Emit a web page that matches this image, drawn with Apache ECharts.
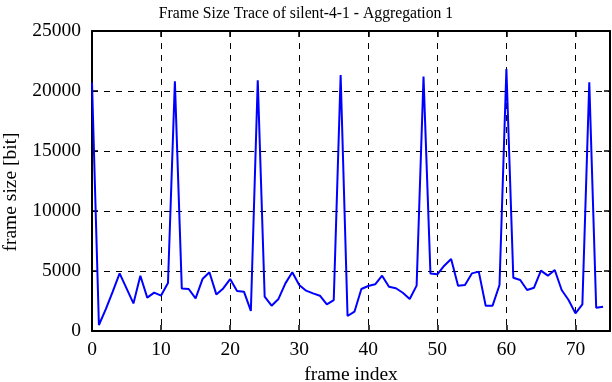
<!DOCTYPE html>
<html><head><meta charset="utf-8">
<script src="https://cdn.jsdelivr.net/npm/echarts@6/dist/echarts.min.js"></script>
<style>html,body{margin:0;padding:0;background:#fff}#c{width:612px;height:382px}</style>
</head><body><div id="c"></div>
<script>
const frameSizes = [20700,500,1830,3280,4800,3550,2300,4600,2780,3200,2950,4000,20800,3550,3500,2720,4330,4890,3050,3550,4330,3330,3280,1670,20900,2860,2110,2670,3970,4890,3830,3360,3140,2940,2220,2580,21330,1250,1610,3500,3750,3890,4610,3690,3560,3190,2670,3780,21200,4800,4720,5440,6000,3780,3830,4800,4950,2110,2110,3830,21830,4440,4250,3420,3610,5030,4610,5080,3420,2580,1470,2220,20720,1940,2030];
const xTicks = [0,10,20,30,40,50,60,70];
const yTicks = [0,5000,10000,15000,20000,25000];
const titleText = 'Frame Size Trace of silent-4-1 - Aggregation 1';
const xName = 'frame index';
const yName = 'frame size [bit]';

const data = frameSizes.map((v,i)=>[i,v]);
const font = 'Liberation Serif';
const lblSize = 19.5;
const chart = echarts.init(document.getElementById('c'));
const tick = {show:true,inside:true,length:6,lineStyle:{color:'#000',width:1.5}};
const line = {show:true,onZero:false,lineStyle:{color:'#000',width:2}};
const dash = {show:true,lineStyle:{color:'#000',type:[6,6],width:1}};
chart.setOption({
  animation:false,
  title:{text:titleText,left:'center',top:1,textStyle:{fontFamily:font,fontWeight:'normal',fontSize:15.7,color:'#000'}},
  grid:{left:92,right:2,top:31,bottom:51,containLabel:false,outerBoundsMode:'none'},
  xAxis:[
    {type:'value',min:0,max:75,interval:10,axisLine:line,
      name:xName,nameLocation:'middle',nameGap:33,nameTextStyle:{fontFamily:font,fontSize:lblSize,color:'#000'},
      axisLabel:{fontFamily:font,fontSize:lblSize,color:'#000',margin:9,customValues:xTicks},
      axisTick:Object.assign({customValues:xTicks},tick),
      splitLine:dash},
    {type:'value',min:0,max:75,interval:10,position:'top',axisLine:line,
      axisLabel:{show:false},splitLine:{show:false},
      axisTick:Object.assign({customValues:xTicks},tick)}
  ],
  yAxis:[
    {type:'value',min:0,max:25000,interval:5000,axisLine:line,
      name:yName,nameLocation:'middle',nameGap:66,nameTextStyle:{fontFamily:font,fontSize:lblSize,color:'#000',padding:[0,22,0,0]},
      axisLabel:{fontFamily:font,fontSize:lblSize,color:'#000',margin:11,formatter:v=>String(v),customValues:yTicks},
      axisTick:Object.assign({customValues:yTicks},tick),
      splitLine:dash},
    {type:'value',min:0,max:25000,interval:5000,position:'right',axisLine:line,
      axisLabel:{show:false},splitLine:{show:false},
      axisTick:Object.assign({customValues:yTicks},tick)}
  ],
  series:[{type:'line',data:data,xAxisIndex:0,yAxisIndex:0,showSymbol:false,symbol:'none',
    lineStyle:{color:'#0000ff',width:2},itemStyle:{color:'#0000ff'}}]
});
</script></body></html>
